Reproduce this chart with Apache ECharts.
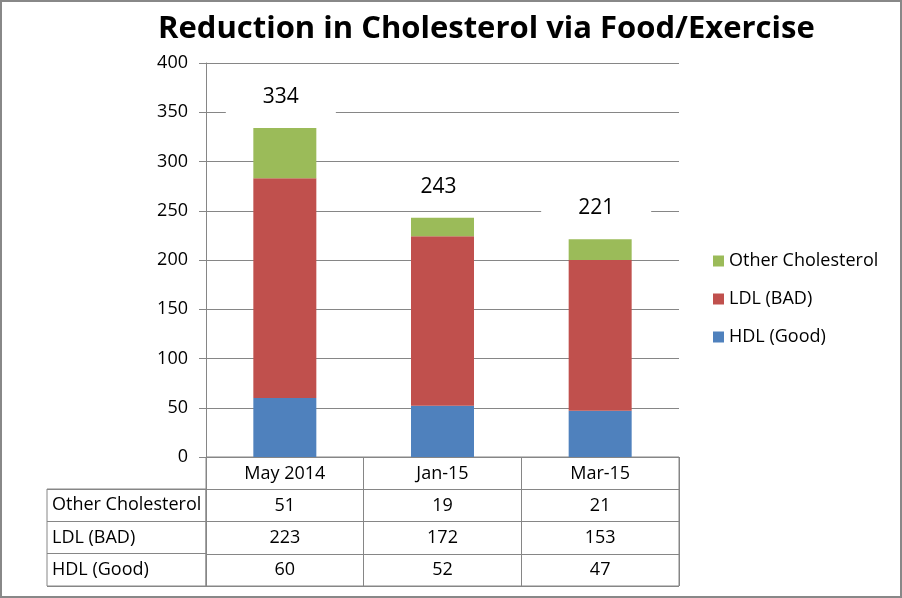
<!DOCTYPE html>
<html>
<head>
<meta charset="utf-8">
<script src="https://cdn.jsdelivr.net/npm/echarts@6/dist/echarts.min.js"></script>
<style>
  html, body { margin: 0; padding: 0; background: #fff; }
  #main { width: 902px; height: 598px; }
</style>
</head>
<body>
<div id="main"></div>
<script>
(function(){

    // 数据
    var categories = ['May 2014', 'Jan-15', 'Mar-15'];
    var hdlValues = [60, 52, 47];
    var ldlValues = [223, 172, 153];
    var otherValues = [51, 19, 21];
    var seriesNames = ['Other Cholesterol', 'LDL (BAD)', 'HDL (Good)'];
    var yTicks = { min: 0, max: 400, interval: 50 };

    var FONT = 'Open Sans';
    var GRAY = '#868686';

    var totals = [];
    for (var i = 0; i < categories.length; i++) {
        totals.push(hdlValues[i] + ldlValues[i] + otherValues[i]);
    }

    // 表格单元格: [列, 行, 值]
    var rowValues = [otherValues, ldlValues, hdlValues];
    var cellData = [];
    for (var r = 0; r < rowValues.length; r++) {
        for (var c = 0; c < categories.length; c++) {
            cellData.push([c, r + 1, rowValues[r][c]]);
        }
    }

    var myChart = echarts.init(document.getElementById('main'));

    var option = {
        backgroundColor: '#fff',
        animation: false,
        title: {
            text: 'Reduction in Cholesterol via Food/Exercise',
            left: 153,
            top: 9,
            textStyle: { fontFamily: FONT, fontSize: 31, fontWeight: 'bold', color: '#000' }
        },
        legend: {
            orient: 'vertical',
            left: 713,
            top: 252,
            padding: 0,
            itemWidth: 11,
            itemHeight: 11,
            itemGap: 20,
            icon: 'rect',
            data: seriesNames,
            textStyle: { fontFamily: FONT, fontSize: 18, color: '#000', lineHeight: 18 }
        },
        grid: [
            { left: 206, right: 223, top: 63, bottom: 141 },
            { left: 206, right: 223, top: 457, bottom: 12, show: true, borderColor: GRAY, borderWidth: 1 },
            { left: 47, width: 159, top: 489, bottom: 12, show: true, borderColor: GRAY, borderWidth: 1 }
        ],
        xAxis: [
            {
                type: 'category',
                gridIndex: 0,
                data: categories,
                axisLine: { show: true, lineStyle: { color: GRAY } },
                axisTick: { show: false },
                axisLabel: { fontFamily: FONT, fontSize: 18, color: '#000', margin: 8 },
                splitLine: { show: false }
            },
            {
                type: 'category',
                gridIndex: 1,
                data: categories,
                axisLine: { show: false },
                axisTick: { show: false },
                axisLabel: { show: false },
                splitLine: { show: true, lineStyle: { color: GRAY } }
            },
            {
                type: 'category',
                gridIndex: 2,
                data: [''],
                axisLine: { show: false },
                axisTick: { show: false },
                axisLabel: { show: false },
                splitLine: { show: false }
            }
        ],
        yAxis: [
            {
                type: 'value',
                gridIndex: 0,
                min: yTicks.min,
                max: yTicks.max,
                interval: yTicks.interval,
                axisLine: { show: true, lineStyle: { color: GRAY } },
                axisTick: { show: true, length: 7, lineStyle: { color: GRAY } },
                axisLabel: { fontFamily: FONT, fontSize: 18, color: '#000', margin: 18 },
                splitLine: { show: true, lineStyle: { color: GRAY } }
            },
            {
                type: 'category',
                gridIndex: 1,
                inverse: true,
                data: [''].concat(seriesNames),
                axisLine: { show: false },
                axisTick: { show: false },
                axisLabel: { show: false },
                splitLine: { show: true, lineStyle: { color: GRAY } }
            },
            {
                type: 'category',
                gridIndex: 2,
                inverse: true,
                data: seriesNames,
                axisLine: { show: false },
                axisTick: { show: false },
                axisLabel: {
                    inside: true,
                    margin: 5,
                    fontFamily: FONT,
                    fontSize: 18,
                    color: '#000'
                },
                splitLine: { show: true, lineStyle: { color: GRAY } }
            }
        ],
        series: [
            {
                name: 'HDL (Good)',
                type: 'bar',
                stack: 'total',
                barWidth: 63,
                data: hdlValues,
                itemStyle: { color: '#4F81BD' }
            },
            {
                name: 'LDL (BAD)',
                type: 'bar',
                stack: 'total',
                barWidth: 63,
                data: ldlValues,
                itemStyle: { color: '#C0504D' }
            },
            {
                name: 'Other Cholesterol',
                type: 'bar',
                stack: 'total',
                barWidth: 63,
                data: otherValues,
                itemStyle: { color: '#9BBB59' }
            },
            { // 合计标签
                type: 'custom',
                xAxisIndex: 0,
                yAxisIndex: 0,
                data: totals.map(function (v, i) { return [i, v]; }),
                z: 5,
                renderItem: function (params, api) {
                    var p = api.coord([api.value(0), api.value(1)]);
                    return {
                        type: 'text',
                        x: p[0] - 4,
                        y: p[1] - 31,
                        style: {
                            text: String(api.value(1)),
                            align: 'center',
                            verticalAlign: 'middle',
                            font: '21px "Open Sans"',
                            fill: '#000',
                            backgroundColor: '#fff',
                            padding: [8, 37, 8, 37]
                        }
                    };
                }
            },
            { // 数据表
                type: 'custom',
                xAxisIndex: 1,
                yAxisIndex: 1,
                data: cellData,
                renderItem: function (params, api) {
                    var p = api.coord([api.value(0), api.value(1)]);
                    return {
                        type: 'text',
                        x: p[0],
                        y: p[1],
                        style: {
                            text: String(api.value(2)),
                            align: 'center',
                            verticalAlign: 'middle',
                            font: '18px "Open Sans"',
                            fill: '#000'
                        }
                    };
                }
            }
        ],
        graphic: [
            {
                type: 'rect',
                shape: { x: 1, y: 1, width: 900, height: 596 },
                style: { fill: null, stroke: '#888', lineWidth: 2 },
                silent: true
            }
        ]
    };

    myChart.setOption(option);

})();
</script>
</body>
</html>
